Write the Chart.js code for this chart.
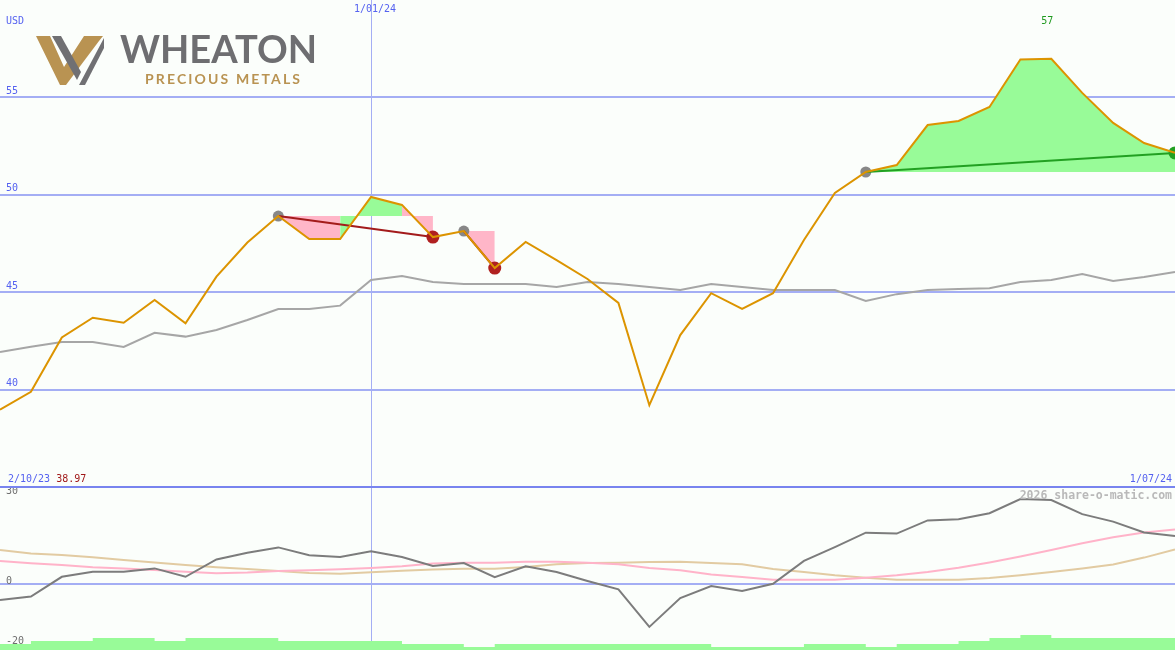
<!DOCTYPE html>
<html>
<head>
<meta charset="utf-8">
<script src="https://cdn.jsdelivr.net/npm/chart.js@4.4.0/dist/chart.umd.min.js"></script>
<style>
  html, body { margin: 0; padding: 0; background: #fbfefb; }
  #wrap { position: relative; width: 1175px; height: 650px; overflow: hidden; background: #fbfefb; }
  canvas { position: absolute; left: 0; }
  #sep { position: absolute; left: 0; top: 486px; width: 1175px; height: 2px; background: #7884ef; }
  #logo { position: absolute; left: 0; top: 0; }
</style>
</head>
<body>
<div id="wrap">
  <canvas id="topChart" width="1175" height="487" style="top:0"></canvas>
  <canvas id="botChart" width="1175" height="163" style="top:487px"></canvas>
  <div id="sep"></div>
  <svg id="logo" width="330" height="100">
    <polygon fill="#b99352" points="36,36 50,36 64,67 84,36 103,36 99,41 66,85 60,85"/>
    <polygon fill="#707073" points="52,36 61,36 81,72 77,80"/>
    <polygon fill="#707073" points="79,85 85,85 104,48 104,38"/>
    <text x="120" y="63" font-family="Lato" font-weight="700" font-size="39" fill="#6e6e71" textLength="197" lengthAdjust="spacingAndGlyphs">WHEATON</text>
    <text x="145" y="84" font-family="Lato" font-weight="700" font-size="14" fill="#b99352" textLength="155" lengthAdjust="spacing">PRECIOUS METALS</text>
  </svg>
</div>
<script>
// ---------------- data ----------------
const startDate = '2/10/23';
const endDate = '1/07/24';
const markDate = '1/01/24';
const markIndex = 12;
const currency = 'USD';
const watermark = '2026 share-o-matic.com';

const price = [38.97, 39.89, 42.68, 43.69, 43.43, 44.60, 43.40, 45.80, 47.55, 48.91,
               47.73, 47.73, 49.89, 49.48, 47.83, 48.14, 46.24, 47.58, 46.65, 45.68,
               44.45, 39.20, 42.80, 44.95, 44.14, 44.95, 47.68, 50.09, 51.17, 51.53,
               53.58, 53.79, 54.51, 56.95, 56.98, 55.23, 53.69, 52.66, 52.15];
const movingAvg = [41.93, 42.20, 42.44, 42.44, 42.19, 42.92, 42.72, 43.06, 43.57, 44.14,
                   44.14, 44.31, 45.63, 45.83, 45.52, 45.42, 45.42, 45.42, 45.27, 45.52,
                   45.42, 45.27, 45.11, 45.42, 45.27, 45.11, 45.11, 45.11, 44.55, 44.90,
                   45.11, 45.16, 45.20, 45.52, 45.63, 45.93, 45.57, 45.78, 46.04];
const momentum = [-5.3, -4.2, 2.4, 4.1, 4.1, 5.2, 2.4, 8.2, 10.4, 12.2,
                  9.6, 9.0, 10.9, 9.0, 6.0, 7.0, 2.3, 5.9, 4.0, 1.0,
                  -1.8, -14.3, -4.7, -0.7, -2.3, 0.1, 7.7, 12.3, 17.1, 16.8,
                  21.2, 21.6, 23.6, 28.3, 28.0, 23.3, 20.8, 17.2, 16.0];
const signalPink = [7.7, 6.9, 6.3, 5.6, 5.2, 4.7, 4.1, 3.6, 3.8, 4.3,
                    4.6, 4.9, 5.3, 5.9, 6.8, 7.1, 7.1, 7.4, 7.4, 7.1,
                    6.6, 5.3, 4.6, 3.2, 2.3, 1.4, 1.4, 1.4, 2.1, 2.9,
                    4.0, 5.4, 7.2, 9.2, 11.3, 13.6, 15.6, 17.2, 18.2];
const signalTan = [11.3, 10.2, 9.7, 8.9, 8.0, 7.2, 6.3, 5.6, 5.0, 4.3,
                   3.7, 3.4, 3.9, 4.4, 4.8, 5.1, 5.1, 5.7, 6.6, 7.0,
                   7.1, 7.3, 7.4, 7.0, 6.6, 5.0, 4.0, 2.9, 2.1, 1.4,
                   1.4, 1.4, 2.0, 2.9, 4.0, 5.2, 6.5, 8.8, 11.5];
const volume = [2, 3, 3, 4, 4, 3, 4, 4, 4, 3,
                3, 3, 3, 2, 2, 1, 2, 2, 2, 2,
                2, 2, 2, 1, 1, 1, 2, 2, 1, 2,
                2, 3, 4, 5, 4, 4, 4, 4, 4];
const patternStart = [9, 15, 28];
const patternEnd = [14, 16, 38];
const topTicks = [40, 45, 50, 55];
const bottomTicks = [30, 0, -20];

// ---------------- styling ----------------
const FONT = "'DejaVu Sans Mono', monospace";
const BLUE_TXT = '#5562f0';
const GRID = '#a4aef4';
const GREEN_FILL = '#98fb98';
const PINK_FILL = '#ffb6c8';
const lastIndex = price.length - 1;

function pts(arr) { return arr.map((v, i) => ({ x: i, y: v })); }
function noPad(s) { s.paddingTop = 0; s.paddingBottom = 0; s.paddingLeft = 0; s.paddingRight = 0; }

// ---------------- top panel ----------------
const topDatasets = [];
topDatasets.push({ data: pts(price), borderColor: '#dc9400', borderWidth: 2, pointRadius: 0, tension: 0, fill: false, order: 1 });
topDatasets.push({ data: pts(movingAvg), borderColor: '#a6a6a6', borderWidth: 2, pointRadius: 0, tension: 0, fill: false, order: 2 });
patternStart.forEach((s, k) => {
  const e = patternEnd[k];
  const level = price[s];
  const up = price[e] > level;
  topDatasets.push({ data: [{ x: s, y: price[s] }, { x: e, y: price[e] }], borderColor: up ? '#22a022' : '#a31b1b', borderWidth: 2, pointRadius: 0, fill: false, order: 3 });
  topDatasets.push({ data: [{ x: s, y: price[s] }], showLine: false, pointRadius: 5.5, pointBackgroundColor: '#878787', pointBorderWidth: 0, order: 4 });
  topDatasets.push({ data: [{ x: e, y: price[e] }], showLine: false, pointRadius: 6.5, pointBackgroundColor: up ? '#22a022' : '#b02020', pointBorderWidth: 0, order: 4 });
  let groupStart = s;
  for (let i = s; i < e; i++) {
    const aboveNow = price[i + 1] >= level;
    const lastOfGroup = (i + 1 === e) || ((price[i + 2] >= level) !== aboveNow);
    if (lastOfGroup) {
      const seg = [];
      for (let j = groupStart; j <= i + 1; j++) seg.push({ x: j, y: price[j] });
      topDatasets.push({
        data: seg,
        borderWidth: 0, borderColor: 'rgba(0,0,0,0)', pointRadius: 0,
        fill: { value: level },
        backgroundColor: aboveNow ? GREEN_FILL : PINK_FILL,
        order: 10
      });
      groupStart = i + 1;
    }
  }
});

const topText = {
  id: 'topText',
  afterDraw(chart) {
    const ctx = chart.ctx;
    const xs = chart.scales.x;
    ctx.save();
    ctx.font = '10px ' + FONT;
    ctx.textBaseline = 'middle';
    ctx.fillStyle = BLUE_TXT;
    ctx.textAlign = 'left';
    ctx.fillText(currency, 6, 21);
    ctx.textAlign = 'center';
    ctx.fillText(markDate, xs.getPixelForValue(markIndex) + 4, 9);
    ctx.textAlign = 'left';
    ctx.fillText(startDate, 8, 479);
    const w = ctx.measureText(startDate + ' ').width;
    ctx.fillStyle = '#a01818';
    ctx.fillText(price[0].toFixed(2), 8 + w, 479);
    ctx.fillStyle = BLUE_TXT;
    ctx.textAlign = 'right';
    ctx.fillText(endDate, 1172, 479);
    let mi = 0;
    price.forEach((v, i) => { if (v > price[mi]) mi = i; });
    ctx.fillStyle = '#1f9a1f';
    ctx.textAlign = 'right';
    ctx.fillText(String(Math.round(price[mi])), xs.getPixelForValue(mi) + 2, 21);
    ctx.restore();
  }
};

new Chart(document.getElementById('topChart'), {
  type: 'line',
  data: { datasets: topDatasets },
  options: {
    responsive: false, animation: false, devicePixelRatio: 1, events: [],
    layout: { padding: 0, autoPadding: false },
    plugins: { legend: { display: false }, tooltip: { enabled: false } },
    scales: {
      x: {
        type: 'linear', min: 0, max: lastIndex,
        afterBuildTicks: s => { s.ticks = [{ value: markIndex }]; },
        afterFit: s => { s.height = 0; noPad(s); },
        ticks: { display: false },
        grid: { color: GRID, lineWidth: 1, drawTicks: false },
        border: { display: false }
      },
      y: {
        min: 35, max: 60,
        afterBuildTicks: s => { s.ticks = topTicks.map(v => ({ value: v })); },
        afterFit: s => { s.width = 0; noPad(s); },
        ticks: { mirror: true, padding: 6, labelOffset: -6, color: BLUE_TXT, font: { family: FONT, size: 10 } },
        grid: { color: GRID, lineWidth: 2, drawTicks: false },
        border: { display: false }
      }
    }
  },
  plugins: [topText]
});

// ---------------- bottom panel ----------------
const botText = {
  id: 'botText',
  afterDraw(chart) {
    const ctx = chart.ctx;
    ctx.save();
    ctx.font = 'bold 11.5px ' + FONT;
    ctx.textBaseline = 'middle';
    ctx.textAlign = 'right';
    ctx.fillStyle = '#b9b9b9';
    ctx.fillText(watermark, 1172, 9);
    ctx.restore();
  }
};

new Chart(document.getElementById('botChart'), {
  type: 'line',
  data: {
    datasets: [
      { data: pts(momentum), borderColor: '#7c7c7c', borderWidth: 2, pointRadius: 0, tension: 0, fill: false, order: 1 },
      { data: pts(signalPink), borderColor: '#ffb3c9', borderWidth: 2, pointRadius: 0, tension: 0, fill: false, order: 2 },
      { data: pts(signalTan), borderColor: '#e2cba2', borderWidth: 2, pointRadius: 0, tension: 0, fill: false, order: 3 },
      { data: pts(volume), yAxisID: 'yv', stepped: 'before', borderWidth: 0, borderColor: 'rgba(0,0,0,0)', pointRadius: 0, fill: 'start', backgroundColor: GREEN_FILL, order: 4 }
    ]
  },
  options: {
    responsive: false, animation: false, devicePixelRatio: 1, events: [],
    layout: { padding: 0, autoPadding: false },
    plugins: { legend: { display: false }, tooltip: { enabled: false } },
    scales: {
      x: {
        type: 'linear', min: 0, max: lastIndex,
        afterBuildTicks: s => { s.ticks = [{ value: markIndex }]; },
        afterFit: s => { s.height = 0; noPad(s); },
        ticks: { display: false },
        grid: { color: GRID, lineWidth: 1, drawTicks: false },
        border: { display: false }
      },
      y: {
        min: -22, max: 163 / 3 - 22, z: 1,
        afterBuildTicks: s => { s.ticks = bottomTicks.map(v => ({ value: v })); },
        afterFit: s => { s.width = 0; noPad(s); },
        ticks: { mirror: true, padding: 6, labelOffset: -3, color: '#6e6e6e', font: { family: FONT, size: 10 } },
        grid: { color: c => (c.tick && c.tick.value === 0 ? GRID : 'rgba(0,0,0,0)'), lineWidth: 2, drawTicks: false },
        border: { display: false }
      },
      yv: {
        display: false, min: 0, max: 163 / 3
      }
    }
  },
  plugins: [botText]
});
</script>
</body>
</html>
